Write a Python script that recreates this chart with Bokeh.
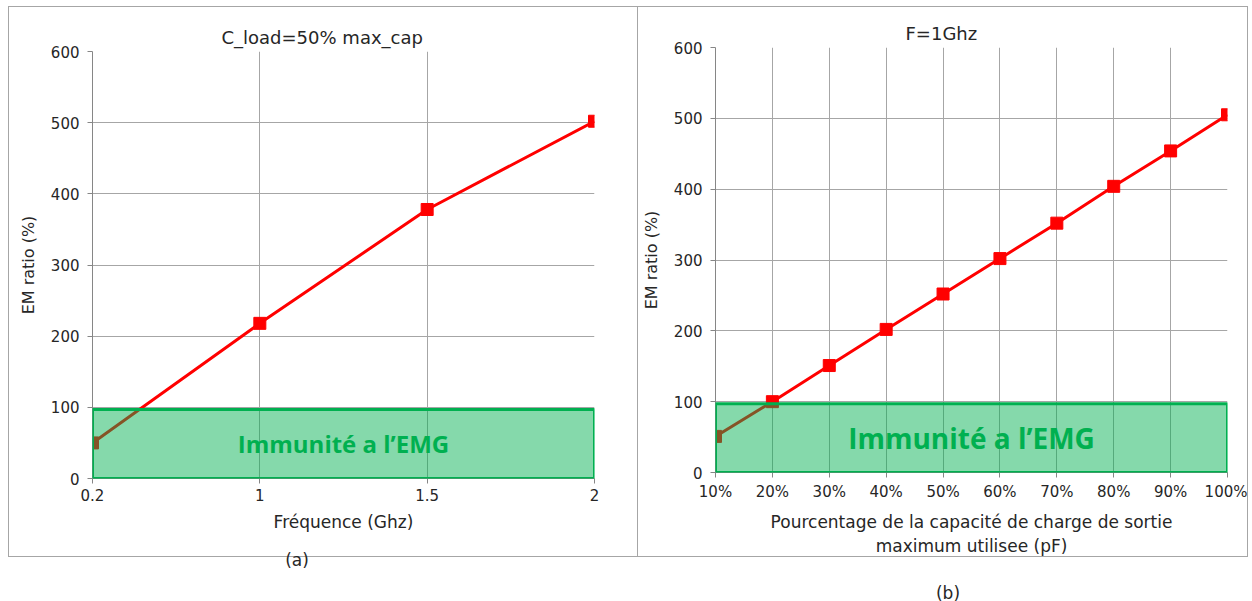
from bokeh.plotting import figure
from bokeh.models import Range1d, FixedTicker, Div, BoxAnnotation, Label
from bokeh.layouts import row, column
from bokeh.embed import file_html
from bokeh.resources import INLINE

# ---- data ----
freq_labels = ["0.2", "1", "1.5", "2"]
em_freq = [50, 218, 378, 502]

cap_labels = ["10%", "20%", "30%", "40%", "50%", "60%", "70%", "80%", "90%", "100%"]
em_cap = [51, 100, 151, 202, 252, 302, 352, 404, 454, 505]

immunity_top = 97
immunity_label = "Immunité a l’EMG"
y_ticks = [0, 100, 200, 300, 400, 500, 600]

FONT = "DejaVu Sans"
GREEN = "#00B050"
TXT = "#262626"


def make_panel(labels, values, title, xlabel, ylabel, width, height,
               bl, br, bt, bb, title_offset, text_size, border_css):
    xs = list(range(len(labels)))
    p = figure(width=width, height=height, output_backend="svg",
               toolbar_location=None, x_range=Range1d(0, len(labels) - 1),
               y_range=Range1d(0, 600),
               min_border_left=bl, min_border_right=br,
               min_border_top=bt, min_border_bottom=bb)
    p.styles = border_css
    p.outline_line_color = None
    p.background_fill_color = "white"
    p.border_fill_color = "white"

    p.title.text = title
    p.title.align = "left"
    p.title.offset = title_offset
    p.title.text_font = FONT
    p.title.text_font_style = "normal"
    p.title.text_font_size = "18px"
    p.title.text_color = TXT
    p.title.standoff = 8

    p.xaxis.ticker = FixedTicker(ticks=xs)
    p.xaxis.major_label_overrides = {i: l for i, l in enumerate(labels)}
    p.yaxis.ticker = FixedTicker(ticks=y_ticks)
    for ax in (p.xaxis, p.yaxis):
        ax.axis_line_color = "#868686"
        ax.major_tick_line_color = "#868686"
        ax.major_tick_in = 0
        ax.major_tick_out = 5
        ax.minor_tick_line_color = None
        ax.major_label_text_font = FONT
        ax.major_label_text_font_size = "15px"
        ax.major_label_text_color = TXT
        ax.axis_label_text_font = FONT
        ax.axis_label_text_font_style = "normal"
        ax.axis_label_text_font_size = "17px"
        ax.axis_label_text_color = TXT
    p.xaxis.axis_label = xlabel
    p.yaxis.axis_label = ylabel
    p.yaxis.axis_label_text_font_size = "16px"
    p.xaxis.major_label_standoff = 5
    p.yaxis.major_label_standoff = 8
    p.xaxis.axis_label_standoff = 8
    p.yaxis.axis_label_standoff = 10

    p.xgrid.ticker = FixedTicker(ticks=xs)
    p.ygrid.ticker = FixedTicker(ticks=y_ticks)
    p.xgrid.grid_line_color = "#A6A6A6"
    p.ygrid.grid_line_color = "#A6A6A6"

    p.line(xs, values, line_color="#FF0000", line_width=3)
    p.scatter(xs, values, marker="square", size=12, fill_color="#FF0000",
              line_color="#FF0000")

    p.add_layout(BoxAnnotation(left=0, right=len(labels) - 1, bottom=0, top=immunity_top,
                               fill_color=GREEN, fill_alpha=0.48,
                               line_color=GREEN, line_width=3, line_alpha=1.0))
    p.add_layout(Label(x=(len(labels) - 1) / 2, y=immunity_top / 2, text=immunity_label,
                       text_align="center", text_baseline="middle",
                       text_font="Open Sans", text_font_style="bold",
                       text_font_size=text_size, text_color=GREEN))
    return p


p1 = make_panel(freq_labels, em_freq, "C_load=50% max_cap", "Fréquence (Ghz)",
                "EM ratio (%)", 630, 551, 83, 45, 44, 80, 129, "24px",
                {"border": "1px solid #A6A6A6", "box-sizing": "border-box"})
p2 = make_panel(cap_labels, em_cap, "F=1Ghz",
                "Pourcentage de la capacité de charge de sortie\nmaximum utilisee (pF)",
                "EM ratio (%)", 610, 551, 70, 21, 40, 80, 190, "28px",
                {"border-top": "1px solid #A6A6A6", "border-right": "1px solid #A6A6A6",
                 "border-bottom": "1px solid #A6A6A6", "box-sizing": "border-box"})

div_a = Div(text="(a)", width=630, height=20,
            styles={"font-family": FONT, "font-size": "17px", "color": TXT,
                    "text-align": "center", "margin-left": "-26px", "margin-top": "-7px",
                    "line-height": "20px"})
div_b = Div(text='<div style="padding-top:22px">(b)</div>', width=610, height=40,
            styles={"font-family": FONT, "font-size": "17px", "color": TXT,
                    "text-align": "center", "margin-left": "5px",
                    "line-height": "18px", "overflow": "hidden"})

layout = row(column(p1, div_a), column(p2, div_b))
layout.styles = {"margin-left": "8px", "margin-top": "6px"}
open("out.html", "w").write(file_html(layout, INLINE))
